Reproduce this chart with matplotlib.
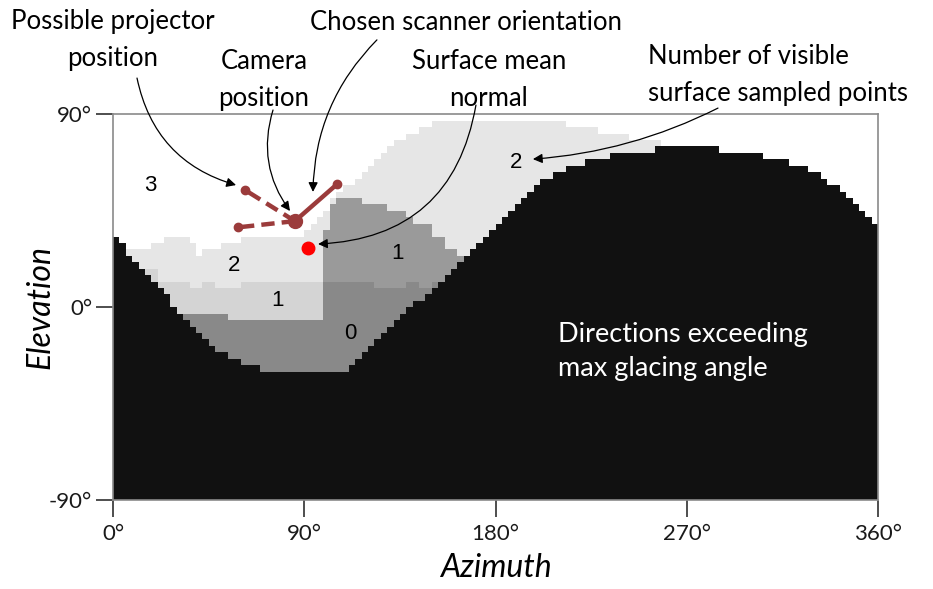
import numpy as np
import matplotlib
matplotlib.use('Agg')
import matplotlib.pyplot as plt
from matplotlib.colors import ListedColormap

# elevation (deg) of the top of each layer, one value per 3-degree azimuth column
black_top = [33, 30, 24, 21, 18, 15, 12, 9, 6, 0,
             -3, -6, -9, -12, -15, -18, -21, -21, -24, -24,
             -27, -27, -27, -30, -30, -30, -30, -30, -30, -30,
             -30, -30, -30, -30, -30, -30, -30, -27, -24, -21,
             -18, -15, -12, -9, -6, -3, 0, 3, 3, 6,
             9, 12, 15, 18, 21, 24, 27, 30, 33, 36,
             39, 42, 45, 48, 51, 54, 57, 60, 60, 63,
             63, 66, 66, 66, 69, 69, 69, 69, 72, 72,
             72, 72, 72, 72, 72, 75, 75, 75, 75, 75,
             75, 75, 75, 75, 75, 72, 72, 72, 72, 72,
             72, 72, 69, 69, 69, 69, 66, 66, 66, 63,
             63, 60, 57, 57, 54, 51, 48, 45, 42, 39]
zero_top = [-90, -90, -90, -90, -90, -90, -90, -90, -90, -90,
            -3, -3, -3, -3, -3, -3, -3, -3, -6, -6,
            -6, -6, -6, -6, -6, -6, -6, -6, -6, -6,
            -6, -6, -6, 12, 12, 12, 12, 12, 12, 12,
            12, 9, 9, 9, 9, 9, 12, 12, 9, 9,
            12, -90, -90, -90, -90, -90, -90, -90, -90, -90,
            -90, -90, -90, -90, -90, -90, -90, -90, -90, -90,
            -90, -90, -90, -90, -90, -90, -90, -90, -90, -90,
            -90, -90, -90, -90, -90, -90, -90, -90, -90, -90,
            -90, -90, -90, -90, -90, -90, -90, -90, -90, -90,
            -90, -90, -90, -90, -90, -90, -90, -90, -90, -90,
            -90, -90, -90, -90, -90, -90, -90, -90, -90, -90]
one_top = [-90, -90, -90, -90, -90, 18, 18, 12, 12, 12,
           12, 12, 9, 9, 12, 12, 9, 9, 9, 9,
           12, 12, 12, 12, 12, 12, 12, 12, 12, 12,
           12, 12, 12, 36, 48, 51, 51, 51, 51, 48,
           48, 48, 48, 45, 45, 45, 42, 39, 39, 39,
           33, 33, 27, 27, 24, -90, -90, -90, -90, -90,
           -90, -90, -90, -90, -90, -90, -90, -90, -90, -90,
           -90, -90, -90, -90, -90, -90, -90, -90, -90, -90,
           -90, -90, -90, -90, -90, -90, -90, -90, -90, -90,
           -90, -90, -90, -90, -90, -90, -90, -90, -90, -90,
           -90, -90, -90, -90, -90, -90, -90, -90, -90, -90,
           -90, -90, -90, -90, -90, -90, -90, -90, -90, -90]
two_top = [-90, -90, 27, 27, 27, 27, 30, 30, 33, 33,
           33, 33, 30, 24, 27, 27, 27, 30, 30, 30,
           33, 33, 33, 33, 33, 33, 33, 33, 33, 33,
           36, 39, 42, 45, 51, 54, 57, 57, 60, 63,
           66, 69, 72, 75, 78, 78, 81, 81, 84, 84,
           87, 87, 87, 87, 87, 87, 87, 87, 87, 87,
           87, 87, 87, 87, 87, 87, 87, 87, 87, 87,
           87, 84, 84, 84, 84, 84, 81, 81, 81, 81,
           81, 78, 78, 78, 78, 78, -90, -90, -90, -90,
           -90, -90, -90, -90, -90, -90, -90, -90, -90, -90,
           -90, -90, -90, -90, -90, -90, -90, -90, -90, -90,
           -90, -90, -90, -90, -90, -90, -90, -90, -90, -90]
one_split_az = 99  # "1" region is light left of this azimuth, mid gray right of it

region_labels = ['3', '2', '1', '0', '1', '2']
region_az = [17.4, 56.9, 77.2, 111.5, 134.1, 189.6]
region_el = [57, 19.7, 3.4, -12, 25.3, 67.3]

camera = (85.6, 40.2)
scanner_end = (105.3, 57.3)
projector_a = (62.1, 54.7)
projector_b = (59.0, 37.3)
mean_normal = (91.9, 27.8)

colors = ['#ffffff', '#e6e6e6', '#d4d4d4', '#9a9a9a', '#898989', '#111111']
az_edges = np.arange(0, 361, 3)
el_edges = np.arange(-90, 91, 3)
el_mid = (el_edges[:-1] + el_edges[1:]) / 2

Z = np.zeros((len(el_mid), len(black_top)), dtype=int)
for c in range(len(black_top)):
    light = az_edges[c] < one_split_az
    for r, e in enumerate(el_mid):
        if e < black_top[c]:
            Z[r, c] = 5
        elif e < zero_top[c]:
            Z[r, c] = 4
        elif e < one_top[c]:
            Z[r, c] = 2 if light else 3
        elif e < two_top[c]:
            Z[r, c] = 1
        else:
            Z[r, c] = 0

fig = plt.figure(figsize=(9.33, 5.89), dpi=100)
ax = fig.add_axes([113 / 933, 1 - 500.3 / 589, 765 / 933, 386 / 589])
ax.pcolormesh(az_edges, el_edges, Z, cmap=ListedColormap(colors), vmin=-0.5, vmax=5.5,
              antialiased=False, linewidth=0)
ax.set_xlim(0, 360)
ax.set_ylim(-90, 90)

for s in ax.spines.values():
    s.set_color('#8a8a8a')
    s.set_linewidth(1.2)
ax.set_xticks([0, 90, 180, 270, 360])
ax.set_xticklabels(['0°', '90°', '180°', '270°', '360°'])
ax.set_yticks([-90, 0, 90])
ax.set_yticklabels(['-90°', '0°', '90°'])
ax.tick_params(length=12, width=1.3, color='#404040', labelsize=16, labelcolor='#1a1a1a')
ax.tick_params(axis='x', pad=5)
ax.tick_params(axis='y', pad=3)
for t in ax.get_xticklabels() + ax.get_yticklabels():
    t.set_family('Lato')
ax.set_xlabel('Azimuth', fontsize=23, style='italic', family='Lato')
ax.set_ylabel('Elevation', fontsize=23, style='italic', family='Lato')
ax.xaxis.label.set_va('center')
ax.yaxis.label.set_va('center')
ax.xaxis.set_label_coords(0.5, (500.3 - 568) / 386)
ax.yaxis.set_label_coords((40 - 113) / 765, 0.5)

for lab, a, e in zip(region_labels, region_az, region_el):
    ax.text(a, e, lab, fontsize=16, family='Liberation Sans', ha='center', va='center')
ax.text(209.4, -20.6, 'Directions exceeding\nmax glacing angle', color='white', fontsize=19.5,
        family='Lato', ha='left', va='center', linespacing=1.45)

# scanner markers
brown = '#9b3b3b'
for p in [projector_a, projector_b]:
    ax.plot([camera[0], p[0]], [camera[1], p[1]], color=brown, lw=3.2, ls=(0, (3, 1.6)))
    ax.plot(p[0], p[1], 'o', color=brown, ms=6)
ax.plot([camera[0], scanner_end[0]], [camera[1], scanner_end[1]], color=brown, lw=3.2)
ax.plot(scanner_end[0], scanner_end[1], 'o', color=brown, ms=6)
ax.plot(camera[0], camera[1], 'o', color=brown, ms=10)
ax.plot(mean_normal[0], mean_normal[1], 'o', color='#ff0000', ms=9)

# callouts
tkw = dict(fontsize=18.5, family='Lato', va='center', linespacing=1.6, clip_on=False)
ax.text(0, 124.7, 'Possible projector\nposition', ha='center', **tkw)
ax.text(71.1, 105.8, 'Camera\nposition', ha='center', **tkw)
ax.text(166.1, 133, 'Chosen scanner orientation', ha='center', **tkw)
ax.text(176.9, 105.8, 'Surface mean\nnormal', ha='center', **tkw)
ax.text(251.8, 108.1, 'Number of visible\nsurface sampled points', ha='left', **tkw)

arrows = [((11.3, 106.9), (57.9, 57.0), 0.3),
          ((75.3, 92.0), (83.3, 44.9), 0.25),
          ((124.2, 124.7), (94.1, 53.8), 0.2),
          ((170.8, 94.3), (96.5, 29.5), -0.4),
          ((284.7, 92.9), (197.6, 69.1), -0.1)]
for start, end, rad in arrows:
    ax.annotate('', xy=end, xytext=start, annotation_clip=False,
                arrowprops=dict(arrowstyle='-|>', color='black', lw=0.9, mutation_scale=14,
                                shrinkA=0, shrinkB=0,
                                connectionstyle='arc3,rad=%s' % rad))

fig.savefig('out.png', dpi=100)
